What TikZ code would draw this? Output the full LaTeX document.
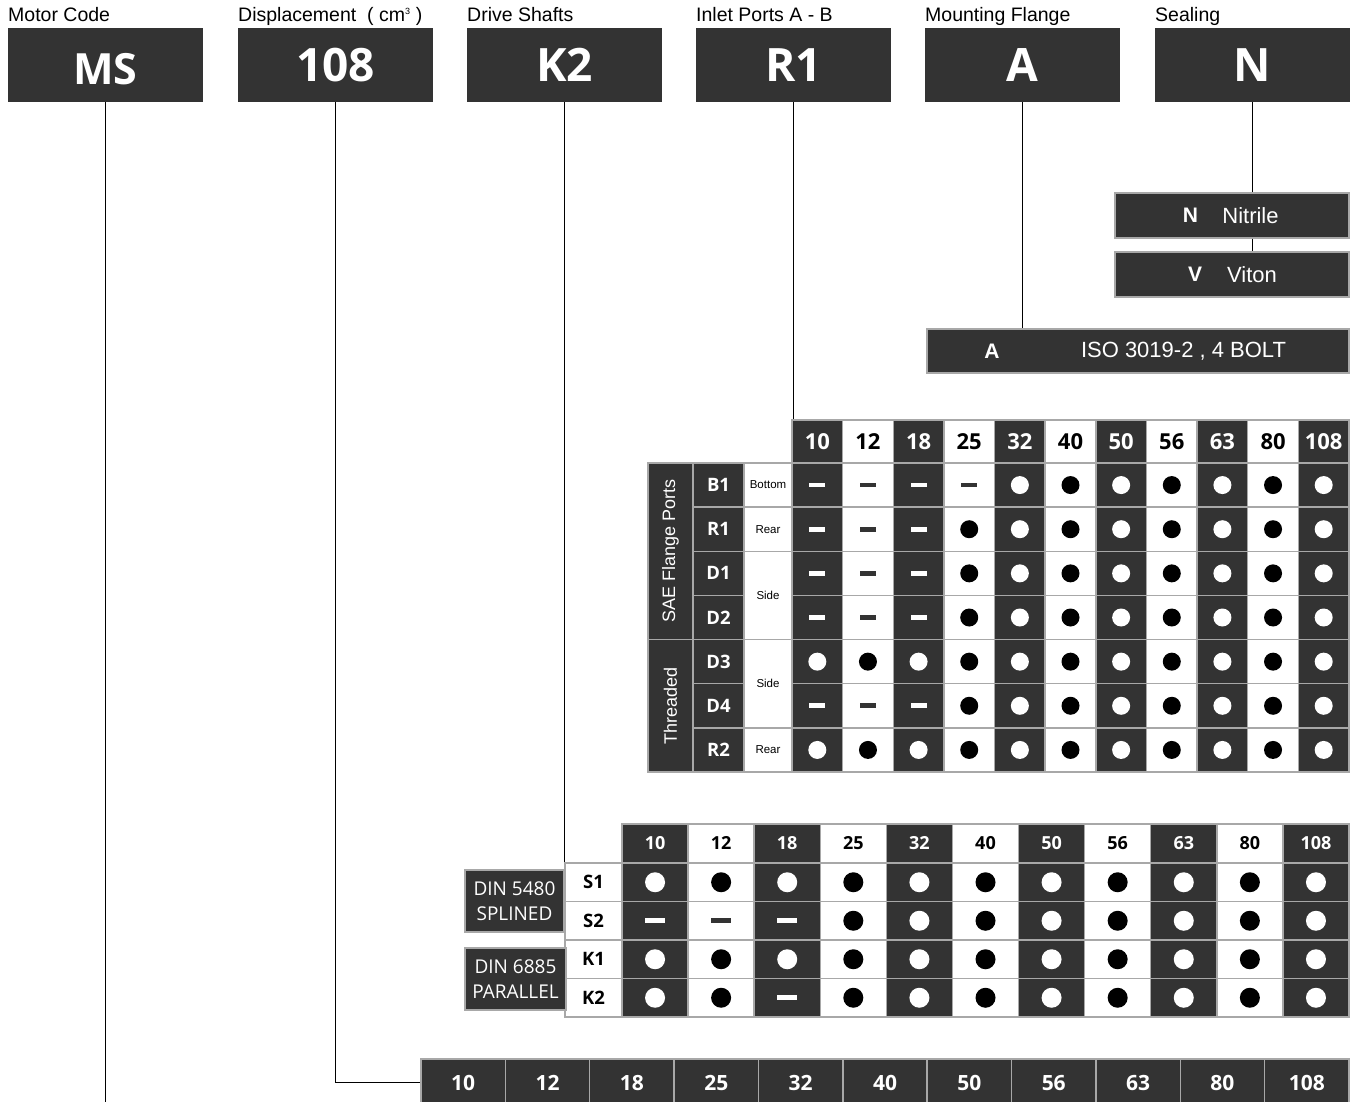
\documentclass[tikz,border=0pt]{standalone}
\usepackage{fontspec}
\setmainfont{Liberation Sans}
\newfontfamily\os{Open Sans}
\newcommand\fsz[1]{\fontsize{#1}{#1}\selectfont}
\definecolor{dk}{HTML}{333333}
\definecolor{bd}{HTML}{A8A8A8}
\begin{document}
\begin{tikzpicture}[x=1pt,y=-1pt,
  topbox/.style={fill=dk,text=white,minimum width=195pt,minimum height=74pt,inner sep=0pt,font=\os\bfseries\fsz{46},text height=32.8pt,text depth=0pt},
  lbl/.style={anchor=base west,inner sep=0pt,font=\fsz{19.5}},
  cellbase/.style={draw=bd,line width=1.5pt,inner sep=0pt},
  dkc/.style={cellbase,fill=dk,text=white},
  wtc/.style={cellbase,fill=white,text=black},
  conn/.style={line width=1.2pt,black},
  hdr/.style={font=\os\bfseries\fsz{22},text height=15.7pt,text depth=0pt},
  shdr/.style={font=\os\bfseries\fsz{18},text height=12.9pt,text depth=0pt},
  code/.style={font=\os\bfseries\fsz{18.5},text height=13.2pt,text depth=0pt},
  btxt/.style={font=\os\bfseries\fsz{21},text height=15pt,text depth=0pt},
  desc/.style={font=\fsz{11.5}},
  plain/.style={inner sep=0pt}]
\useasboundingbox (0,0) rectangle (1357,1102);

% ---------- top labels ----------
\node[lbl] (l1) at (8,22) {Motor Code};
\node[lbl] (l2) at (238,22) {Displacement\ \ ( cm\textsuperscript{\fsz{9}3} )};
\node[lbl] (l3) at (467,22) {Drive Shafts};
\node[lbl] (l4) at (696,22) {Inlet Ports A - B};
\node[lbl] (l5) at (925,22) {Mounting Flange};
\node[lbl] (l6) at (1155,22) {Sealing};

% ---------- top boxes ----------
\node[topbox,font=\os\bfseries\fsz{43}] (ms) at (105.5,65) {\raisebox{-3pt}{MS}};
\node[topbox] (disp) at (335.5,65) {108};
\node[topbox] (k2) at (564.5,65) {K2};
\node[topbox] (r1) at (793.5,65) {R1};
\node[topbox] (fa) at (1022.5,65) {A};
\node[topbox] (sn) at (1252.5,65) {N};

% ---------- sealing ----------
\node[dkc,minimum width=234pt,minimum height=45pt] (nit) at (1232,215.5) {};
\node[plain,text=white,font=\bfseries\fsz{21}] (nitc) at (1190.5,215.5) {N};
\node[plain,text=white,font=\fsz{22}] (nitt) at (1250.5,215.5) {Nitrile};
\node[dkc,minimum width=234pt,minimum height=45pt] (vit) at (1232,274.5) {};
\node[plain,text=white,font=\bfseries\fsz{21}] (vitc) at (1195,274.5) {V};
\node[plain,text=white,font=\fsz{22}] (vitt) at (1252,274.5) {Viton};

% ---------- flange ----------
\node[dkc,minimum width=422pt,minimum height=44pt] (iso) at (1138,351) {};
\node[plain,text=white,font=\bfseries\fsz{21}] (isoc) at (992,351) {A};
\node[plain,text=white,font=\fsz{22}] (isot) at (1183.5,351) {ISO 3019-2 , 4 BOLT};

% ---------- ports table ----------
\def\px{792}\def\pw{50.636}\def\ph{44.143}\def\py{463}
\foreach \h [count=\c] in {10,12,18,25,32,40,50,56,63,80,108}{
  \pgfmathsetmacro\xx{\px+\pw*(\c-0.5)}
  \ifodd\c\relax\def\cs{dkc}\else\def\cs{wtc}\fi
  \node[\cs,hdr,minimum width=\pw pt,minimum height=43pt] (ph\c) at (\xx,441.5) {\h};
}
\foreach \row [count=\r] in {{0,0,0,0,1,1,1,1,1,1,1},{0,0,0,1,1,1,1,1,1,1,1},{0,0,0,1,1,1,1,1,1,1,1},{0,0,0,1,1,1,1,1,1,1,1},{1,1,1,1,1,1,1,1,1,1,1},{0,0,0,1,1,1,1,1,1,1,1},{1,1,1,1,1,1,1,1,1,1,1}}{
  \pgfmathsetmacro\yy{\py+\ph*(\r-0.5)}
  \foreach \v [count=\c] in \row {
    \pgfmathsetmacro\xx{\px+\pw*(\c-0.5)}
    \ifodd\c\relax\def\cs{dkc}\def\mk{white}\def\dm{white}\else\def\cs{wtc}\def\mk{black}\def\dm{dk}\fi
    \node[\cs,minimum width=\pw pt,minimum height=\ph pt] (p\r-\c) at (\xx,\yy) {};
    \ifnum\v=1\relax
      \fill[\mk] (p\r-\c.center) circle (9pt);
    \else
      \fill[\dm] ([xshift=-8pt,yshift=-2.4pt]p\r-\c.center) rectangle ([xshift=8pt,yshift=2.4pt]p\r-\c.center);
    \fi
  }
}
% code column
\foreach \t [count=\r] in {B1,R1,D1,D2,D3,D4,R2}{
  \pgfmathsetmacro\yy{\py+\ph*(\r-0.5)}
  \node[dkc,code,minimum width=51pt,minimum height=\ph pt] (pc\r) at (718.5,\yy) {\t};
}
% description column
\node[wtc,desc,minimum width=48pt,minimum height=\ph pt] (pd1) at (768,485.07) {Bottom};
\node[wtc,desc,minimum width=48pt,minimum height=\ph pt] (pd2) at (768,529.21) {Rear};
\node[wtc,desc,minimum width=48pt,minimum height=88.286pt] (pd3) at (768,595.43) {Side};
\node[wtc,desc,minimum width=48pt,minimum height=88.286pt] (pd5) at (768,683.71) {Side};
\node[wtc,desc,minimum width=48pt,minimum height=\ph pt] (pd7) at (768,749.93) {Rear};
% group column
\node[dkc,minimum width=45pt,minimum height=176.57pt] (gsae) at (670.5,551.29) {};
\node[plain,rotate=90,text=white,font=\fsz{18}] (gsaet) at (gsae.center) {SAE Flange Ports};
\node[dkc,minimum width=45pt,minimum height=132.43pt] (gthr) at (670.5,705.79) {};
\node[plain,rotate=90,text=white,font=\fsz{18}] (gthrt) at (gthr.center) {Threaded};

% ---------- shafts table ----------
\def\sx{622}\def\sw{66.09}\def\sh{38.5}\def\sy{863}
\foreach \h [count=\c] in {10,12,18,25,32,40,50,56,63,80,108}{
  \pgfmathsetmacro\xx{\sx+\sw*(\c-0.5)}
  \ifodd\c\relax\def\cs{dkc}\else\def\cs{wtc}\fi
  \node[\cs,shdr,minimum width=\sw pt,minimum height=39pt] (sh\c) at (\xx,843.5) {\h};
}
\foreach \row [count=\r] in {{1,1,1,1,1,1,1,1,1,1,1},{0,0,0,1,1,1,1,1,1,1,1},{1,1,1,1,1,1,1,1,1,1,1},{1,1,0,1,1,1,1,1,1,1,1}}{
  \pgfmathsetmacro\yy{\sy+\sh*(\r-0.5)}
  \foreach \v [count=\c] in \row {
    \pgfmathsetmacro\xx{\sx+\sw*(\c-0.5)}
    \ifodd\c\relax\def\cs{dkc}\def\mk{white}\def\dm{white}\else\def\cs{wtc}\def\mk{black}\def\dm{dk}\fi
    \node[\cs,minimum width=\sw pt,minimum height=\sh pt] (s\r-\c) at (\xx,\yy) {};
    \ifnum\v=1\relax
      \fill[\mk] (s\r-\c.center) circle (10pt);
    \else
      \fill[\dm] ([xshift=-10pt,yshift=-2.3pt]s\r-\c.center) rectangle ([xshift=10pt,yshift=2.3pt]s\r-\c.center);
    \fi
  }
}
\foreach \t [count=\r] in {S1,S2,K1,K2}{
  \pgfmathsetmacro\yy{\sy+\sh*(\r-0.5)}
  \node[wtc,code,minimum width=57pt,minimum height=\sh pt] (sc\r) at (593.5,\yy) {\t};
}
\node[dkc,text=white,font=\os\fontsize{19}{25}\selectfont,align=center,minimum width=99pt,minimum height=62pt] (din1) at (514.5,901) {DIN 5480\\SPLINED};
\node[dkc,text=white,font=\os\fontsize{19}{25}\selectfont,align=center,minimum width=101pt,minimum height=62pt] (din2) at (515.5,979) {DIN 6885\\PARALLEL};

% ---------- bottom bar ----------
\def\bx{421}\def\bw{84.364}
\foreach \h [count=\c] in {10,12,18,25,32,40,50,56,63,80,108}{
  \pgfmathsetmacro\xx{\bx+\bw*(\c-0.5)}
  \node[dkc,btxt,minimum width=\bw pt,minimum height=47pt] (b\c) at (\xx,1082.5) {\h};
}

% ---------- connectors ----------
\coordinate (msend) at (105.5,1104);
\draw[conn] (ms.south) -- (msend);
\draw[conn] (disp.south) |- (b1.west);
\draw[conn] (k2.south) -- (k2.south |- sc1.north west);
\draw[conn] (r1.south) -- (r1.south |- ph1.north);
\draw[conn] (fa.south) -- (fa.south |- iso.north);
\draw[conn] (sn.south) -- (sn.south |- nit.north);
\draw[conn] (sn.south |- nit.south) -- (sn.south |- vit.north);
\end{tikzpicture}
\end{document}
